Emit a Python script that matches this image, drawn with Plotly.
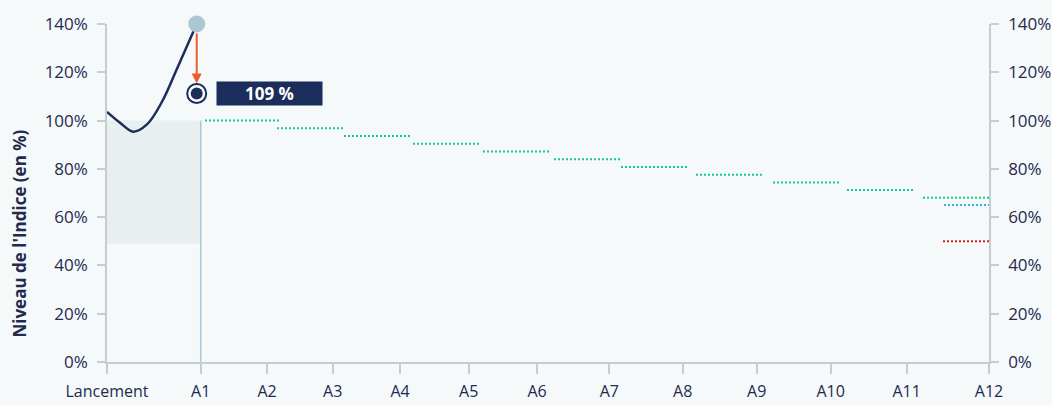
import plotly.graph_objects as go

# ---- data ----
obs_labels = ["Lancement", "A1", "A2", "A3", "A4", "A5", "A6", "A7", "A8", "A9", "A10", "A11", "A12"]
obs_x = [0, 93.7, 160, 225.7, 293, 361.7, 430, 502.3, 575.7, 649.7, 723.7, 799.7, 882]

# autocall barrier (green dotted)
barrier_start = [98, 170, 237, 306, 376, 447, 514, 589, 666, 740, 816]
barrier_end = [172, 236, 304, 373, 443, 514, 581, 656, 733, 806, 882]
barrier_level = [100, 96.8, 93.6, 90.4, 87.2, 84, 80.8, 77.6, 74.4, 71.2, 68]

# coupon barrier (blue) and capital barrier (red) at maturity
coupon_seg_x = [837, 882]
coupon_level = 65
capital_seg_x = [836, 882]
capital_level = 50

# index path
index_x = [0, 13, 26.3, 40, 55, 70, 89.7]
index_y = [103.6, 99.1, 95.4, 98.4, 107.8, 121.5, 140]

final_level = 111.2
final_label = "109 %"

initial_zone = [49, 100]   # shaded zone between Lancement and A1

y_ticks = [0, 20, 40, 60, 80, 100, 120, 140]
y_ticktext = [f"{v}%" for v in y_ticks]

# ---- styles ----
BG = "#f5f9fa"
NAVY = "#1b2d5a"
TXT = "#232a4e"
AX = "#c9cccf"
GREEN = "#19c995"
BLUE = "#2ab4ea"
RED = "#e0201c"
ORANGE = "#ee5b30"
LIGHTBLUE = "#a9c8d4"
FONT = "Open Sans"

fig = go.Figure()

# barrier segments
for xs, xe, lv in zip(barrier_start, barrier_end, barrier_level):
    fig.add_trace(go.Scatter(x=[xs, xe], y=[lv, lv], mode="lines",
                             line=dict(color=GREEN, width=2, dash="2px,2px"),
                             hoverinfo="skip", showlegend=False))
fig.add_trace(go.Scatter(x=coupon_seg_x, y=[coupon_level] * 2, mode="lines",
                         line=dict(color=BLUE, width=2, dash="2px,2px"),
                         hoverinfo="skip", showlegend=False))
fig.add_trace(go.Scatter(x=capital_seg_x, y=[capital_level] * 2, mode="lines",
                         line=dict(color=RED, width=2, dash="2px,2px"),
                         hoverinfo="skip", showlegend=False))

# index path
fig.add_trace(go.Scatter(x=index_x, y=index_y, mode="lines",
                         line=dict(color=NAVY, width=2.5, shape="spline", smoothing=1.0),
                         hoverinfo="skip", showlegend=False, cliponaxis=False))
fig.add_trace(go.Scatter(x=[index_x[-1]], y=[index_y[-1]], mode="markers",
                         marker=dict(size=17, color=LIGHTBLUE),
                         hoverinfo="skip", showlegend=False, cliponaxis=False))

# final level ring marker
fig.add_trace(go.Scatter(x=[index_x[-1]], y=[final_level], mode="markers",
                         marker=dict(size=19, color="white", line=dict(color=NAVY, width=2)),
                         hoverinfo="skip", showlegend=False, cliponaxis=False))
fig.add_trace(go.Scatter(x=[index_x[-1]], y=[final_level], mode="markers",
                         marker=dict(size=12, color=NAVY),
                         hoverinfo="skip", showlegend=False, cliponaxis=False))

# right axis dummy
fig.add_trace(go.Scatter(x=[obs_x[0]], y=[0], yaxis="y2", mode="markers",
                         marker=dict(size=1, opacity=0), hoverinfo="skip", showlegend=False))

# shaded initial zone and vertical line at A1
fig.add_shape(type="rect", x0=obs_x[0], x1=obs_x[1], y0=initial_zone[0], y1=initial_zone[1],
              xref="x", yref="y", fillcolor="#e7eff1", line=dict(width=0), layer="below")
fig.add_shape(type="line", x0=obs_x[1], x1=obs_x[1], y0=0, y1=initial_zone[1],
              xref="x", yref="y", line=dict(color=LIGHTBLUE, width=1.5), layer="below")

# arrow from index end to final level
fig.add_annotation(x=index_x[-1], y=final_level, ax=index_x[-1], ay=index_y[-1],
                   xref="x", yref="y", axref="x", ayref="y", text="",
                   showarrow=True, arrowhead=2, arrowsize=1, arrowwidth=2,
                   arrowcolor=ORANGE, standoff=10, startstandoff=8)

# label box
fig.add_annotation(x=index_x[-1], y=final_level, xref="x", yref="y",
                   text=f"<b>{final_label}</b>", showarrow=False,
                   xanchor="left", xshift=19, yanchor="middle",
                   bgcolor=NAVY, width=97, height=15, borderpad=4,
                   font=dict(family=FONT, size=17, color="white"))

# y-axis title
fig.add_annotation(text="<b>Niveau de l'Indice (en %)</b>", xref="paper", yref="paper",
                   x=-0.0986, y=0.38, textangle=-90, showarrow=False,
                   xanchor="center", yanchor="middle",
                   font=dict(family=FONT, size=17, color=TXT))

axis_common = dict(range=[0, 140], tickvals=y_ticks, ticktext=y_ticktext,
                   showgrid=False, zeroline=False, showline=True, linecolor=AX, linewidth=1.5,
                   ticks="outside", ticklen=8, tickcolor=AX, tickwidth=1.5,
                   ticklabelstandoff=6,
                   tickfont=dict(family=FONT, size=17, color=TXT), fixedrange=True)

fig.update_layout(
    width=1052, height=405,
    margin=dict(l=107, r=63, t=24, b=43, autoexpand=False),
    paper_bgcolor=BG, plot_bgcolor=BG,
    font=dict(family=FONT, color=TXT),
    xaxis=dict(range=[obs_x[0], obs_x[-1]], tickvals=obs_x, ticktext=obs_labels,
               showgrid=False, zeroline=False, showline=True, linecolor=AX, linewidth=1.5,
               ticks="outside", ticklen=10, tickcolor=AX, tickwidth=1.5,
               ticklabelstandoff=4, fixedrange=True,
               tickfont=dict(family=FONT, size=16, color=TXT), tickangle=0),
    yaxis=dict(**axis_common, side="left"),
    yaxis2=dict(**axis_common, side="right", overlaying="y"),
    showlegend=False,
)

fig.write_html("out.html", config={"displayModeBar": False},
               post_script="document.body.style.margin='0';document.body.style.background='" + BG + "';")
